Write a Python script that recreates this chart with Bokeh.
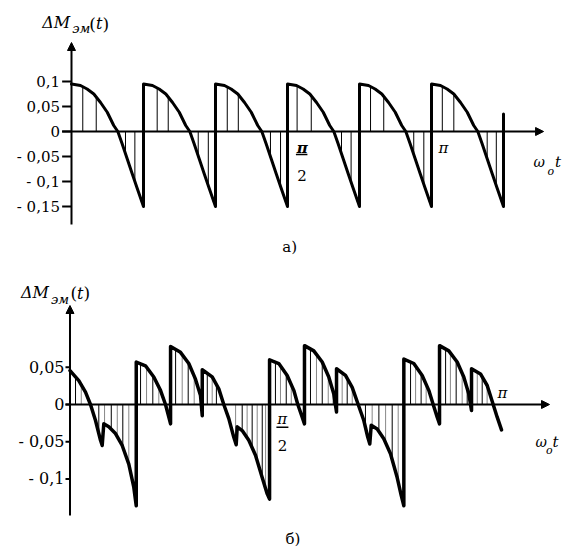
import numpy as np
from bokeh.plotting import figure
from bokeh.layouts import column
from bokeh.models import Range1d, Arrow, NormalHead
from bokeh.core.properties import value
from bokeh.embed import file_html
from bokeh.resources import INLINE

SERIF = value("DejaVu Serif")

# ---------------- data, panel a (x in degrees of w0*t) ----------------
a_shape_x = [0, 3.75, 6.5, 9.3, 12.1, 14.9, 17.6, 19.3, 21.1, 23.2, 25.3, 27.4, 30]
a_shape_y = [0.095, 0.092, 0.085, 0.075, 0.058, 0.0385, 0.012, 0.0, -0.0245, -0.0545, -0.0845, -0.114, -0.15]
a_period_starts = [0, 30, 60, 90, 120, 150]
a_end_x = 180
a_end_top = 0.035
a_hatch_x = [4.7, 10.3, 22.5, 26.4, 35.7, 40.3, 52.8, 57.0, 64.9, 69.5, 82.9, 87.1,
             94.0, 99.9, 112.5, 116.5, 124.6, 130.1, 142.6, 146.8, 154.5, 159.3, 173.2, 177.0]
a_ticks = [0.1, 0.05, 0, -0.05, -0.1, -0.15]
a_tick_labels = ["0,1", "0,05", "0", "- 0,05", "- 0,1", "- 0,15"]

# ---------------- data, panel b ----------------
b_x = [0, 3.67, 6.46, 8.54, 10.63, 12.71, 13.42, 14.08, 16.17, 18.96, 21.75, 24.5, 26.58, 27.6,
       27.6, 31.46, 34.92, 37.71, 39.79, 41.17, 41.9,
       41.9, 46.04, 49.5, 52.29, 54.38, 55.1,
       55.1, 59.25, 62.0, 64.08, 66.17, 68.25, 69.25, 69.67, 71.75, 74.5, 77.29, 80.08, 82.17, 83.15,
       83.15, 87.0, 90.5, 93.25, 94.92, 96.75, 97.7,
       97.7, 101.58, 105.08, 107.83, 109.92, 111.05,
       111.05, 114.79, 117.58, 120.08, 122.42, 124.08, 124.92, 125.5, 128.0, 130.75, 133.54, 136.33, 138.0, 139.1,
       139.1, 143.25, 146.75, 149.5, 151.33, 153.0, 153.97,
       153.97, 157.83, 161.33, 164.08, 166.17, 167.3,
       167.3, 171.04, 173.83, 176.33, 178.0, 179.8]
b_y = [0.0456, 0.032, 0.0166, 0.0, -0.0215, -0.048, -0.055, -0.026, -0.030, -0.039, -0.055, -0.080, -0.111, -0.136,
       0.057, 0.052, 0.037, 0.019, 0.0, -0.017, -0.026,
       0.078, 0.070, 0.055, 0.034, 0.012, -0.015,
       0.0466, 0.037, 0.021, 0.0, -0.019, -0.044, -0.054, -0.030, -0.035, -0.048, -0.068, -0.098, -0.120, -0.127,
       0.060, 0.055, 0.039, 0.019, 0.0, -0.017, -0.026,
       0.079, 0.072, 0.057, 0.037, 0.014, -0.010,
       0.048, 0.039, 0.023, 0.0, -0.0215, -0.044, -0.053, -0.028, -0.033, -0.046, -0.066, -0.098, -0.122, -0.136,
       0.061, 0.055, 0.039, 0.019, 0.0, -0.017, -0.026,
       0.079, 0.072, 0.057, 0.037, 0.014, -0.008,
       0.048, 0.041, 0.0255, 0.0, -0.017, -0.034]
b_hatch_x = [2.3, 4.7, 12.0, 14.4, 17.2, 19.7, 22.0, 24.5, 29.4, 31.9, 34.5, 37.0,
             44.0, 46.75, 49.25, 51.75, 57.2, 59.25, 61.0, 69.0, 71.75, 73.8, 75.9, 78.0,
             80.1, 81.5, 85.6, 87.7, 90.1, 92.2, 100.2, 102.7, 105.1, 107.6, 109.7, 113.4,
             115.5, 117.6, 123.1, 125.9, 128.7, 131.5, 134.25, 136.75, 141.9, 144.0, 146.3,
             148.4, 156.5, 158.5, 160.9, 163.4, 165.5, 169.7, 171.75, 173.8]
b_ticks = [0.05, 0, -0.05, -0.1]
b_tick_labels = ["0,05", "0", "- 0,05", "- 0,1"]


def make_fig(height, xr, yr):
    p = figure(width=574, height=height, x_range=Range1d(*xr), y_range=Range1d(*yr),
               output_backend="svg", toolbar_location=None, tools="", min_border=0,
               x_axis_type=None, y_axis_type=None)
    p.grid.visible = False
    p.outline_line_color = None
    p.background_fill_color = "white"
    p.border_fill_color = "white"
    return p


def txt(p, x, y, s, size, style="normal", align="left", baseline="alphabetic"):
    p.text(x=[x], y=[y], text=[s], text_font=SERIF, text_font_size=f"{size}px",
           text_font_style=style, text_align=align, text_baseline=baseline,
           text_color="black")


def axes(p, x0, x_tip, y_bot, y_tip, tick_len, ticks, labels, label_x, size):
    p.add_layout(Arrow(x_start=0, y_start=y_bot, x_end=0, y_end=y_tip, line_width=2,
                       line_color="black",
                       end=NormalHead(size=8, fill_color="black", line_color="black", line_width=1)))
    p.add_layout(Arrow(x_start=x0, y_start=0, x_end=x_tip, y_end=0, line_width=2,
                       line_color="black",
                       end=NormalHead(size=8, fill_color="black", line_color="black", line_width=1)))
    p.segment(x0=[-tick_len] * len(ticks), y0=ticks, x1=[0] * len(ticks), y1=ticks,
              line_width=2, line_color="black")
    p.text(x=[label_x] * len(ticks), y=ticks, text=labels, text_font=SERIF,
           text_font_size=f"{size}px", text_align="right", text_baseline="middle",
           text_color="black")


# ---------------- panel a ----------------
pa = make_fig(258, (-29.583, 209.583), (-0.254, 0.262))

a_x, a_y = [], []
for s in a_period_starts:
    a_x += [s + v for v in a_shape_x]
    a_y += list(a_shape_y)
a_x.append(a_end_x)
a_y.append(a_end_top)

a_h_top = np.interp(a_hatch_x, a_x, a_y)
pa.segment(x0=a_hatch_x, y0=[0] * len(a_hatch_x), x1=a_hatch_x, y1=a_h_top,
           line_width=1, line_color="black")
axes(pa, -3.9, 196.7, -0.186, 0.178, 3.9, a_ticks, a_tick_labels, -4.79, 15)
pa.line(a_x, a_y, line_width=3, line_color="black", line_join="round", line_cap="round")

txt(pa, -12.2, 0.218, "ΔM", 16, "italic")
txt(pa, 0.29, 0.206, "эм", 13, "italic")
txt(pa, 7.4, 0.216, "(", 17)
txt(pa, 10.2, 0.216, "t", 16, "italic")
txt(pa, 12.9, 0.216, ")", 17)
txt(pa, 96.1, -0.032, "π", 15, "bold italic", "center")
pa.line([93.5, 98.3], [-0.046, -0.046], line_width=1.5, line_color="black")
txt(pa, 96.0, -0.088, "2", 15, "normal", "center")
txt(pa, 155.0, -0.032, "π", 15, "italic", "center")
txt(pa, 192.5, -0.061, "ω", 14, "italic")
txt(pa, 198.3, -0.079, "o", 11, "italic")
txt(pa, 201.5, -0.061, "t", 15, "italic")
txt(pa, 87.8, -0.23, "а)", 15)

# ---------------- panel b ----------------
pb = make_fig(295, (-28.958, 210.208), (-0.2, 0.19597))

b_h_top = np.interp(b_hatch_x, b_x, b_y)
b_h_col = ["black" if i % 2 == 0 else "#888888" for i in range(len(b_hatch_x))]
pb.segment(x0=b_hatch_x, y0=[0] * len(b_hatch_x), x1=b_hatch_x, y1=b_h_top,
           line_width=1, line_color=b_h_col)
axes(pb, -1.875, 199.8, -0.149, 0.1329, 1.875, b_ticks, b_tick_labels, -2.29, 16)
pb.line(b_x, b_y, line_width=3.5, line_color="black", line_join="round", line_cap="round")

txt(pb, -20.4, 0.1497, "ΔM", 16, "italic")
txt(pb, -7.9, 0.141, "эм", 13, "italic")
txt(pb, 0.2, 0.149, "(", 17)
txt(pb, 2.9, 0.149, "t", 16, "italic")
txt(pb, 5.6, 0.149, ")", 17)
txt(pb, 88.4, -0.0195, "π", 15, "italic", "center")
pb.line([86.0, 91.0], [-0.0305, -0.0305], line_width=1.5, line_color="black")
txt(pb, 88.5, -0.055, "2", 15, "normal", "center")
txt(pb, 180.2, 0.0161, "π", 15, "italic", "center")
txt(pb, 194.0, -0.051, "ω", 14, "italic")
txt(pb, 198.3, -0.0624, "o", 11, "italic")
txt(pb, 201.0, -0.051, "t", 15, "italic")
txt(pb, 89.8, -0.1805, "б)", 15)

layout = column(pa, pb, spacing=0)
open("out.html", "w").write(file_html(layout, INLINE))
